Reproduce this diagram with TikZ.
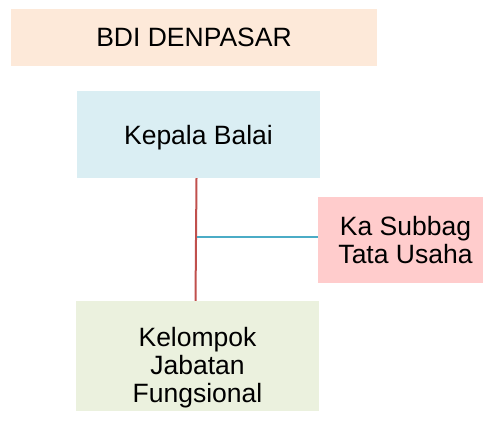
\documentclass[tikz,border=0pt]{standalone}
\usepackage{fontspec}
\setmainfont{Liberation Sans}
\usetikzlibrary{positioning}
\definecolor{bdifill}{HTML}{FDE9D9}
\definecolor{kepalafill}{HTML}{DAEEF3}
\definecolor{subbagfill}{HTML}{FFCCCC}
\definecolor{kelompokfill}{HTML}{EBF1DE}
\definecolor{redline}{HTML}{C0504D}
\definecolor{blueline}{HTML}{4BACC6}

\begin{document}
\begin{tikzpicture}[x=1pt, y=-1pt,
		unitbox/.style={inner sep=0pt, align=center, text depth=0pt,
			font=\fontsize{26.5}{28}\selectfont},
		redlink/.style={draw=redline, line width=2pt},
		bluelink/.style={draw=blueline, line width=2pt}]
			\useasboundingbox (0,0) rectangle (484,421);
			\node[unitbox, fill=bdifill, minimum width=366pt, minimum height=57pt] (bdi) at (194,37.5) {BDI DENPASAR};
			\node[unitbox, fill=kepalafill, minimum width=243pt, minimum height=87pt] (kepala) at (198.5,134.5) {Kepala Balai};
			\node[unitbox, fill=subbagfill, minimum width=165pt, minimum height=86pt] (subbag) at (400.5,240) {\hspace*{10pt}Ka Subbag\\\hspace*{10pt}Tata Usaha};
			\node[unitbox, fill=kelompokfill, minimum width=243pt, minimum height=110pt] (kelompok) at (197.5,356) {\rule{0pt}{37pt}Kelompok\\Jabatan\\Fungsional};
			\coordinate (trunk) at ([xshift=-2pt]kepala.south);
			\draw[redlink] (trunk) -- ([xshift=-2pt]kelompok.north);
			\draw[bluelink] ([yshift=3pt]subbag.west -| trunk) -- ([yshift=3pt]subbag.west);
		\end{tikzpicture}
\end{document}
